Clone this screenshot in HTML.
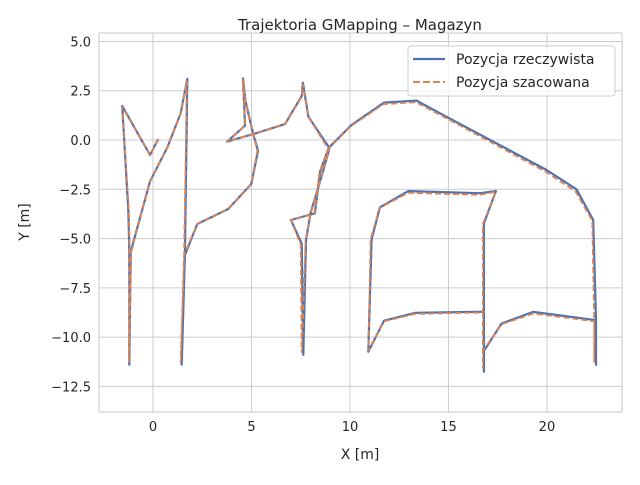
<!DOCTYPE html>
<html><head><meta charset="utf-8"><style>
body{margin:0;background:#fff}
svg text{font-family:"DejaVu Sans","Liberation Sans",sans-serif;fill:#262626}
</style></head><body>
<svg id="chart" width="640" height="480" viewBox="0 0 640 480" xmlns="http://www.w3.org/2000/svg">
<rect width="640" height="480" fill="#fff"/>
<g id="grid"></g>
<g id="plot"></g>
<rect x="99" y="33" width="523" height="379" fill="none" stroke="#cccccc" stroke-width="1.1"/>
<g id="ticks"></g>
<text x="360" y="30" font-size="15" text-anchor="middle">Trajektoria GMapping – Magazyn</text>
<text x="360" y="459" font-size="14" text-anchor="middle">X [m]</text>
<text x="29" y="222" font-size="14" text-anchor="middle" transform="rotate(-90 29 222)">Y [m]</text>
<g>
<rect x="408" y="46" width="207" height="50" rx="3" fill="#fff" fill-opacity="0.8" stroke="#cccccc"/>
<g>
<line x1="413" y1="59" x2="445" y2="59" stroke="#4c72b0" stroke-width="2.2"/>
<text x="456" y="64" font-size="14">Pozycja rzeczywista</text></g>
<g>
<line x1="413" y1="82" x2="445" y2="82" stroke="#dd8452" stroke-width="2" stroke-dasharray="7,3"/>
<text x="456" y="87" font-size="14">Pozycja szacowana</text></g>
</g>
</svg>
<script>
const trueX=[0.27,-0.15,-1.56,-1.25,-1.2,-1.2,-1.13,-0.62,-0.15,0.73,1.4,1.74,1.62,1.46,1.62,2.25,3.82,4.99,5.33,5.09,4.7,4.57,4.67,3.77,5.09,6.7,7.55,7.61,7.89,8.93,8.48,8.22,7.0,7.55,7.63,7.77,8.0,8.6,8.98,10.08,11.73,13.38,14.9,19.98,21.5,22.35,22.49,22.49,22.49,19.3,17.7,16.8,16.8,16.8,13.3,11.73,10.93,11.1,11.52,12.96,16.6,17.41,16.8,16.8];
const trueY=[0.05,-0.76,1.73,-3.64,-5.67,-11.4,-5.67,-3.8,-2.1,-0.37,1.35,3.1,-5.84,-11.4,-5.84,-4.26,-3.5,-2.23,-0.54,0.3,1.95,3.13,0.73,-0.08,0.3,0.81,2.23,2.91,1.18,-0.37,-1.6,-3.72,-4.06,-5.25,-10.9,-5.08,-3.7,-1.7,-0.34,0.76,1.9,2.0,1.18,-1.52,-2.5,-4.06,-9.14,-11.4,-9.14,-8.72,-9.31,-10.7,-11.76,-8.71,-8.77,-9.17,-10.74,-5.04,-3.42,-2.59,-2.7,-2.59,-4.23,-8.71];
const estX=[0.27,-0.15,-1.56,-1.22,-1.18,-1.22,-1.1,-0.62,-0.15,0.73,1.4,1.72,1.58,1.4,1.58,2.25,3.82,4.99,5.3,5.09,4.7,4.57,4.67,3.77,5.09,6.7,7.55,7.6,7.89,8.9,8.45,8.2,7.0,7.5,7.55,7.75,8.0,8.58,8.95,10.05,11.7,13.35,14.9,19.95,21.45,22.3,22.4,22.4,22.4,19.3,17.7,16.75,16.75,16.75,13.3,11.73,10.93,11.05,11.5,12.96,16.6,17.41,16.75,16.75];
const estY=[0.05,-0.76,1.7,-3.64,-5.67,-11.3,-5.67,-3.8,-2.1,-0.37,1.35,3.0,-5.84,-11.3,-5.84,-4.26,-3.5,-2.23,-0.54,0.3,1.95,3.1,0.73,-0.08,0.3,0.81,2.2,2.85,1.18,-0.45,-1.65,-3.75,-4.06,-5.3,-10.8,-5.1,-3.75,-1.75,-0.4,0.7,1.82,1.92,1.1,-1.62,-2.6,-4.1,-9.2,-11.3,-9.2,-8.8,-9.35,-10.7,-11.6,-8.75,-8.82,-9.2,-10.7,-5.04,-3.45,-2.68,-2.78,-2.62,-4.25,-8.75];
const xTicks=[0,5,10,15,20];
const yTicks=[5.0,2.5,0.0,-2.5,-5.0,-7.5,-10.0,-12.5];
const xDom=[-2.74,23.81], yDom=[-13.8,5.43];
const L=99,R=622,T=33,B=412;
function sx(v){return L+(v-xDom[0])/(xDom[1]-xDom[0])*(R-L);}
function sy(v){return B-(v-yDom[0])/(yDom[1]-yDom[0])*(B-T);}
const NS="http://www.w3.org/2000/svg";
const grid=document.getElementById('grid'),ticks=document.getElementById('ticks'),plot=document.getElementById('plot');
function mk(t,a,p){const e=document.createElementNS(NS,t);for(const k in a)e.setAttribute(k,a[k]);p.appendChild(e);return e;}
xTicks.forEach(v=>{const x=sx(v);
const g=mk('line',{x1:x,x2:x,y1:T,y2:B,stroke:'#cccccc','stroke-width':1},grid);


const t=mk('text',{x:x,y:B+19,'font-size':13,'text-anchor':'middle'},ticks);t.textContent=String(v);

});
yTicks.forEach(v=>{const y=sy(v);
const g=mk('line',{x1:L,x2:R,y1:y,y2:y,stroke:'#cccccc','stroke-width':1},grid);


const t=mk('text',{x:L-8,y:y+5,'font-size':13,'text-anchor':'end'},ticks);t.textContent=v.toFixed(1).replace('-','\u2212');

});
function pts(xs,ys){return xs.map((x,i)=>sx(x).toFixed(1)+','+sy(ys[i]).toFixed(1)).join(' ');}
const l1=mk('polyline',{points:pts(trueX,trueY),fill:'none',stroke:'#4c72b0','stroke-width':2.2,'stroke-linejoin':'round'},plot);


const l2=mk('polyline',{points:pts(estX,estY),fill:'none',stroke:'#dd8452','stroke-width':1.8,'stroke-dasharray':'6,3'},plot);


</script>
</body></html>
